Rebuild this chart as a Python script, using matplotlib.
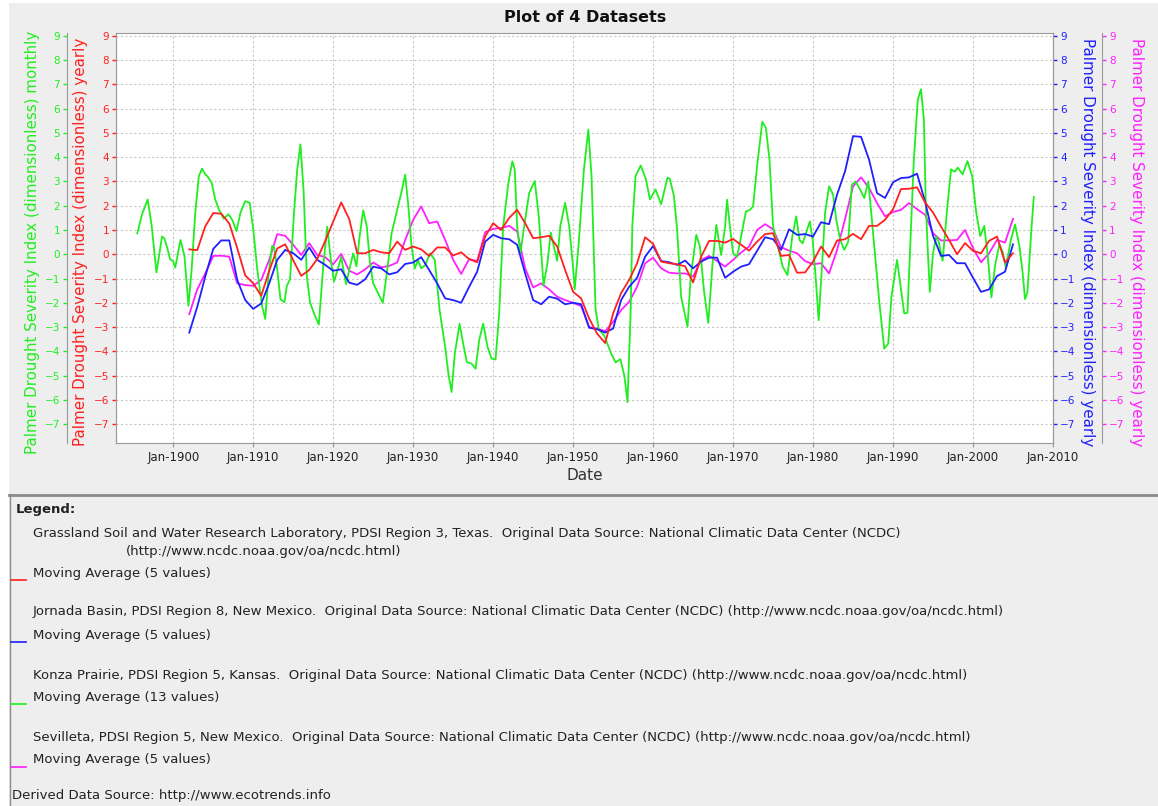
import matplotlib
matplotlib.use("Agg")
import matplotlib.pyplot as plt
from matplotlib.patches import Rectangle
from matplotlib.lines import Line2D

W, H = 1158, 806

# yearly moving averages (5 values), one value per year
years = list(range(1902, 2006))

grassland_tx = [
    0.2, 0.17, 1.15, 1.7, 1.67, 1.27, 0.25, -0.87, -1.2, -1.71,
    -0.68, 0.24, 0.41, -0.25, -0.89, -0.65, -0.2, 0.55, 1.35, 2.14,
    1.45, 0.04, 0.04, 0.18, 0.08, 0.04, 0.52, 0.18, 0.32, 0.2,
    -0.07, 0.28, 0.28, -0.05, 0.08, -0.2, -0.33, 0.73, 1.28, 1.0,
    1.5, 1.83, 1.28, 0.66, 0.7, 0.76, 0.32, -0.65, -1.55, -1.82,
    -2.65, -3.27, -3.66, -2.44, -1.6, -1.06, -0.37, 0.7, 0.43, -0.3,
    -0.37, -0.41, -0.5, -1.16, -0.1, 0.55, 0.55, 0.48, 0.63, 0.39,
    0.15, 0.52, 0.83, 0.87, -0.07, -0.03, -0.76, -0.75, -0.3, 0.32,
    -0.12, 0.57, 0.62, 0.84, 0.62, 1.17, 1.17, 1.42, 1.86, 2.69,
    2.7, 2.76, 2.14, 1.72, 1.14, 0.59, 0.0, 0.46, 0.14, 0.04,
    0.55, 0.73, -0.34, 0.04,
]

jornada_nm = [
    -3.23, -2.17, -0.92, 0.22, 0.57, 0.57, -1.06, -1.89, -2.25, -2.03,
    -1.2, -0.23, 0.18, 0.04, -0.23, 0.28, -0.23, -0.44, -0.68, -0.62,
    -1.17, -1.26, -1.03, -0.51, -0.58, -0.83, -0.74, -0.4, -0.34, -0.12,
    -0.65, -1.2, -1.82, -1.89, -2.0, -1.34, -0.72, 0.52, 0.8, 0.66,
    0.62, 0.39, -0.79, -1.89, -2.06, -1.75, -1.83, -2.06, -2.0, -2.06,
    -3.03, -3.09, -3.23, -3.06, -1.89, -1.34, -0.97, -0.1, 0.34, -0.28,
    -0.33, -0.44, -0.26, -0.58, -0.3, -0.14, -0.14, -0.97, -0.72, -0.51,
    -0.41, 0.14, 0.7, 0.62, 0.18, 1.03, 0.8, 0.83, 0.73, 1.32,
    1.24, 2.46, 3.42, 4.87, 4.84, 3.9, 2.52, 2.32, 2.97, 3.14,
    3.17, 3.32, 2.18, 0.76, -0.07, -0.03, -0.37, -0.37, -0.97, -1.55,
    -1.45, -0.9, -0.72, 0.41,
]

sevilleta_nm = [
    -2.47, -1.45, -0.79, -0.07, -0.06, -0.1, -1.2, -1.27, -1.3, -1.06,
    -0.23, 0.83, 0.76, 0.39, -0.03, 0.46, -0.03, -0.12, -0.41, 0.01,
    -0.68, -0.83, -0.62, -0.34, -0.54, -0.48, -0.34, 0.59, 1.42, 1.97,
    1.28, 1.35, 0.59, -0.23, -0.81, -0.2, -0.28, 0.91, 1.05, 1.08,
    1.17, 0.94, -0.58, -1.37, -1.2, -1.45, -1.75, -1.89, -2.0, -2.14,
    -3.0, -3.06, -3.17, -2.79, -2.3, -1.96, -1.34, -0.37, -0.14, -0.58,
    -0.76, -0.79, -0.79, -0.92, -0.23, -0.07, -0.28, -0.51, -0.23, 0.07,
    0.32, 1.0, 1.24, 1.03, 0.29, 0.15, 0.04, -0.28, -0.41, -0.37,
    -0.79, 0.18, 1.45, 2.8, 3.17, 2.73, 2.11, 1.56, 1.74, 1.83,
    2.11, 1.86, 1.63, 0.87, 0.57, 0.57, 0.59, 1.0, 0.25, -0.33,
    0.04, 0.59, 0.48, 1.46,
]

# monthly moving average (13 values), vertices
konza_time = [
    1895.5, 1896.1, 1896.8, 1897.3, 1897.9, 1898.6, 1898.9, 1899.3, 1899.6, 1900.0,
    1900.25, 1900.9, 1901.4, 1901.9, 1902.3, 1902.75, 1903.2, 1903.6, 1904.0, 1904.3,
    1904.8, 1905.25, 1905.7, 1906.3, 1906.9, 1907.4, 1907.9, 1908.4, 1909.0, 1909.55,
    1910.0, 1910.5, 1911.1, 1911.5, 1911.9, 1912.35, 1912.6, 1913.0, 1913.4, 1913.9,
    1914.2, 1914.6, 1915.1, 1915.5, 1915.9, 1916.3, 1916.7, 1917.1, 1917.6, 1918.2,
    1918.75, 1919.25, 1919.7, 1920.1, 1920.6, 1921.0, 1921.6, 1922.1, 1922.5, 1922.9,
    1923.3, 1923.75, 1924.2, 1924.6, 1925.0, 1925.6, 1926.2, 1926.7, 1927.3, 1927.9,
    1928.5, 1929.0, 1929.4, 1929.8, 1930.2, 1930.6, 1931.0, 1931.5, 1932.1, 1932.7,
    1933.3, 1934.0, 1934.4, 1934.8, 1935.2, 1935.8, 1936.25, 1936.7, 1937.3, 1937.8,
    1938.25, 1938.75, 1939.3, 1939.8, 1940.3, 1940.75, 1941.25, 1941.9, 1942.4, 1942.7,
    1943.0, 1943.4, 1944.0, 1944.5, 1945.2, 1945.7, 1946.3, 1946.8, 1947.2, 1947.6,
    1948.0, 1948.4, 1949.0, 1949.5, 1949.9, 1950.2, 1950.7, 1951.35, 1951.9, 1952.3,
    1952.8, 1953.2, 1953.9, 1954.7, 1955.3, 1955.9, 1956.4, 1956.8, 1957.2, 1957.4,
    1957.8, 1958.45, 1959.1, 1959.6, 1960.3, 1961.0, 1961.8, 1962.1, 1962.6, 1963.0,
    1963.5, 1964.3, 1964.7, 1965.4, 1965.85, 1966.35, 1966.9, 1967.4, 1967.9, 1968.5,
    1969.0, 1969.25, 1969.6, 1970.0, 1970.5, 1971.0, 1971.6, 1972.1, 1972.5, 1973.0,
    1973.65, 1974.1, 1974.55, 1975.0, 1975.6, 1976.2, 1976.8, 1977.4, 1977.9, 1978.3,
    1978.7, 1979.1, 1979.6, 1979.95, 1980.3, 1980.7, 1981.1, 1981.5, 1982.0, 1982.5,
    1982.9, 1983.4, 1983.9, 1984.4, 1984.85, 1985.3, 1985.9, 1986.4, 1986.9, 1987.2,
    1987.8, 1988.3, 1988.9, 1989.4, 1989.8, 1990.5, 1990.95, 1991.4, 1991.8, 1992.2,
    1992.6, 1993.1, 1993.5, 1993.85, 1994.1, 1994.4, 1994.6, 1995.0, 1995.4, 1995.7,
    1996.2, 1996.8, 1997.25, 1997.7, 1998.1, 1998.7, 1999.3, 1999.9, 2000.4, 2000.9,
    2001.4, 2001.8, 2002.3, 2002.75, 2003.3, 2003.7, 2004.1, 2004.75, 2005.25, 2005.8,
    2006.2, 2006.5, 2006.8, 2007.3, 2007.6,
]
konza_ks = [
    0.86, 1.65, 2.26, 1.17, -0.75, 0.73, 0.65, 0.2, -0.2, -0.3,
    -0.55, 0.59, -0.07, -2.13, -0.62, 1.71, 3.22, 3.53, 3.3, 3.2,
    2.95, 2.26, 1.85, 1.47, 1.65, 1.4, 0.96, 1.71, 2.19, 2.12,
    1.03, -0.62, -2.13, -2.67, -0.9, 0.34, 0.3, -0.62, -1.85, -1.98,
    -1.3, -1.03, 1.73, 3.5, 4.53, 2.6, -0.9, -1.98, -2.44, -2.9,
    -0.51, 1.14, -0.23, -1.13, -0.58, -0.12, -1.23, -0.51, 0.04, -0.5,
    0.73, 1.81, 1.14, -0.37, -1.2, -1.6, -2.0, -0.79, 0.87, 1.7,
    2.52, 3.28, 1.97, 0.32, -0.58, -0.25, -0.58, -0.45, 0.04, -0.23,
    -2.3, -3.82, -4.92, -5.68, -4.1, -2.86, -3.68, -4.44, -4.51, -4.72,
    -3.54, -2.86, -3.82, -4.3, -4.34, -2.44, 1.14, 2.94, 3.83, 3.49,
    1.14, 0.04, 1.42, 2.52, 3.02, 1.58, -1.3, -0.33, 0.9, 0.3,
    -0.27, 1.17, 2.12, 1.17, -0.2, -1.44, 0.48, 3.5, 5.14, 3.22,
    -2.26, -3.09, -3.36, -4.05, -4.46, -4.32, -5.0, -6.1, -2.26, 1.17,
    3.22, 3.66, 3.09, 2.26, 2.67, 2.06, 3.16, 3.1, 2.4, 1.03,
    -1.75, -2.99, -0.92, 0.8, 0.32, -1.48, -2.83, -0.51, 1.21, -0.03,
    1.14, 2.25, 1.14, 0.04, -0.1, 0.73, 1.76, 1.83, 1.97, 3.63,
    5.46, 5.21, 3.9, 1.14, 0.32, -0.51, -0.86, 0.73, 1.56, 0.59,
    0.45, 0.87, 1.35, 0.59, -0.86, -2.72, -0.58, 1.7, 2.8, 2.46,
    1.42, 0.59, 0.18, 0.52, 2.87, 3.0, 2.66, 2.32, 3.0, 1.97,
    -0.23, -2.03, -3.89, -3.68, -1.75, -0.23, -1.34, -2.44, -2.41, 0.73,
    3.9, 6.39, 6.8, 5.56, 1.97, -0.23, -1.55, 0.04, 0.73, 0.52,
    -0.27, 1.99, 3.5, 3.4, 3.57, 3.29, 3.84, 3.22, 1.71, 0.75,
    1.17, 0.07, -1.78, -0.48, 0.41, 0.1, -0.55, 0.62, 1.23, 0.34,
    -0.75, -1.85, -1.58, 1.03, 2.37,
]

ytick_vals = list(range(-7, 10))
xtick_years = list(range(1900, 2011, 10))
xtick_labels = [f"Jan-{y}" for y in xtick_years]

y_title = "Palmer Drought Severity Index (dimensionless)"
RED, BLUE, GREEN, MAGENTA = "#ff2020", "#2020ff", "#20ee20", "#ff20ff"
GREY = "#9a9a9a"
NARROW = ["Liberation Sans Narrow", "DejaVu Sans"]


def fx(px):
    return px / W


def fy(py):
    return 1 - py / H


fig = plt.figure(figsize=(W / 100, H / 100), dpi=100, facecolor="white")
fig.patches.append(Rectangle((fx(9), 0), 1, fy(3), transform=fig.transFigure,
                             facecolor="#eeeeee", edgecolor="none", zorder=-10))

ax = fig.add_axes([fx(116), fy(443), (1053 - 116) / W, (443 - 33) / H])
ax.set_facecolor("white")
ax.set_zorder(0)


def make_axis(color, side, offset_px, label, label_px, rot):
    a = ax.twinx()
    for s in a.spines.values():
        s.set_visible(False)
    if side == "left":
        a.yaxis.tick_left()
        a.yaxis.set_label_position("left")
    sp = a.spines[side]
    sp.set_visible(True)
    sp.set_color(GREY)
    sp.set_position(("outward", offset_px * 72 / 100))  # outward is in points
    a.set_ylim(-7.78, 9.12)
    a.set_yticks(ytick_vals)
    a.tick_params(axis="y", colors=color, labelsize=7.5, length=3, width=1, pad=2)
    a.set_ylabel(label, color=color, fontsize=10.9, rotation=rot, ha="center", va="center")
    a.yaxis.set_label_coords((label_px - 116) / 937, 0.49)
    return a


# rendering order: magenta at the bottom, red on top
max_ = make_axis(MAGENTA, "right", 49, y_title + " yearly", 1137, 270)
gax = make_axis(GREEN, "left", 49, y_title + " monthly", 32, 90)
bax = make_axis(BLUE, "right", 0, y_title + " yearly", 1088, 270)
rax = make_axis(RED, "left", 0, y_title + " yearly", 81, 90)

max_.plot(years, sevilleta_nm, color=MAGENTA, lw=1.3)
gax.plot(konza_time, konza_ks, color=GREEN, lw=1.3)
bax.plot(years, jornada_nm, color=BLUE, lw=1.3)
rax.plot(years, grassland_tx, color=RED, lw=1.3)

# background axis: grid and dates
ax.set_xlim(1892.84, 2010.0)
ax.set_ylim(-7.78, 9.12)
ax.set_yticks(ytick_vals)
ax.tick_params(axis="y", left=False, right=False, labelleft=False, labelright=False)
ax.set_xticks(xtick_years, xtick_labels, fontfamily=NARROW)
ax.tick_params(axis="x", colors=GREY, labelcolor="#222222", labelsize=8.5, length=3, pad=3)
ax.grid(True, color="#c8c8c8", linestyle=(0, (2, 2)), linewidth=0.8)
for s in ax.spines.values():
    s.set_color(GREY)
ax.set_xlabel("Date", fontsize=11, fontfamily=NARROW, color="#333333", va="center")
ax.xaxis.set_label_coords(0.5, (443 - 476) / 410)

fig.text(fx(585), fy(17), "Plot of 4 Datasets", fontsize=11.5, fontweight="bold",
         ha="center", va="center", color="#111111")

# legend panel
fig.add_artist(Line2D([fx(9), 1], [fy(494.5), fy(494.5)], color="#8a8a8a", lw=2))
fig.add_artist(Line2D([fx(9.5), fx(9.5)], [fy(494), 0], color="#8a8a8a", lw=1))

src = "Original Data Source: National Climatic Data Center (NCDC)"
url = "(http://www.ncdc.noaa.gov/oa/ncdc.html)"
legend_rows = [
    ("Grassland Soil and Water Research Laboratory, PDSI Region 3, Texas.  " + src,
     "Moving Average (5 values)", RED, 534, 573),
    ("Jornada Basin, PDSI Region 8, New Mexico.  " + src + " " + url,
     "Moving Average (5 values)", BLUE, 612, 635),
    ("Konza Prairie, PDSI Region 5, Kansas.  " + src + " " + url,
     "Moving Average (13 values)", GREEN, 675, 697),
    ("Sevilleta, PDSI Region 5, New Mexico.  " + src + " " + url,
     "Moving Average (5 values)", MAGENTA, 737, 760),
]
txt = dict(fontsize=9.5, color="#222222", va="center", ha="left")
fig.text(fx(16), fy(509), "Legend:", fontweight="bold", **txt)
for name, ma, color, y_name, y_ma in legend_rows:
    fig.text(fx(33), fy(y_name), name, **txt)
    fig.text(fx(33), fy(y_ma), ma, **txt)
    fig.add_artist(Line2D([fx(11), fx(26)], [fy(y_ma + 7), fy(y_ma + 7)], color=color, lw=1.2))
fig.text(fx(126), fy(551), url, **txt)
fig.text(fx(12), fy(795), "Derived Data Source: http://www.ecotrends.info", **txt)

fig.savefig("out.png", dpi=100, facecolor=fig.get_facecolor())
